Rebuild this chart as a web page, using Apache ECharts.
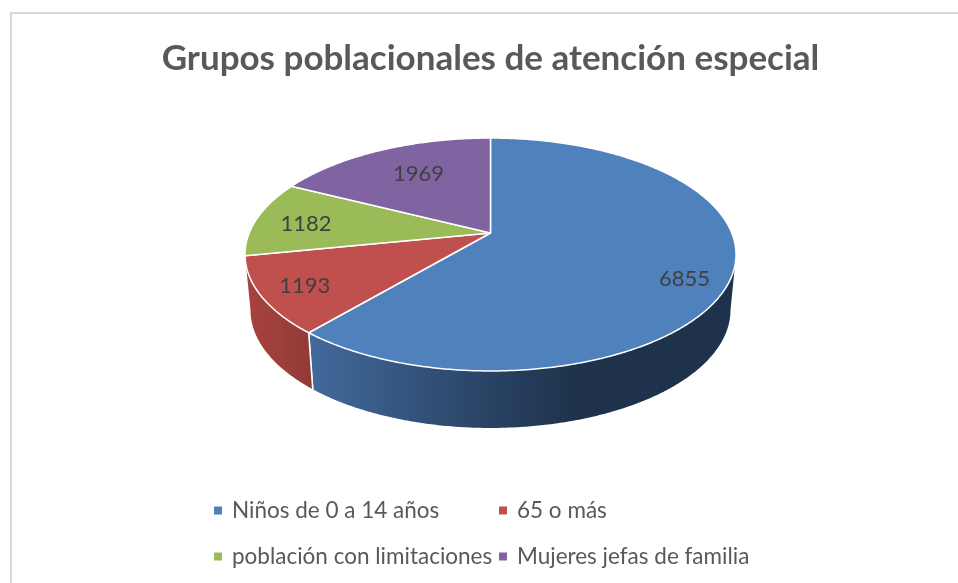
<!DOCTYPE html>
<html>
<head>
<meta charset="utf-8">
<style>html,body{margin:0;padding:0;background:#fff}#c{width:958px;height:583px}</style>
<script src="https://cdn.jsdelivr.net/npm/echarts@6/dist/echarts.min.js"></script>
</head>
<body>
<div id="c"></div>
<script>
const titleText = 'Grupos poblacionales de atención especial';
const categories = ['Niños de 0 a 14 años', '65 o más', 'población con limitaciones', 'Mujeres jefas de familia'];
const values = [6855, 1193, 1182, 1969];
const colors = ['#4F81BD', '#C0504D', '#9BBB59', '#8064A2'];

// Perspective projection of the pie disc
const apex = { x: 490.5, y: 233 };
const persp = { a: 241.3, b: 112.5, k: 0.1845 };
const topEllipse = { cy: 254.5, rx: 245.5, ry: 116.5 };
const baseEllipse = { cy: 310, rx: 240, ry: 118 };
const labelFraction = 0.8;
const labelNudge = [[3, 13], [-6, 4], [3, 3], [18, 9]];
// Visible wall spans, in degrees clockwise from the top of the disc
const wallSpan = [[100.6, null], [null, 259.4], null, null];

const total = values.reduce((s, v) => s + v, 0);
const deg = (v) => v / total * 360;

function project(theta, r) {
  const t = theta * Math.PI / 180;
  const u = r * Math.sin(t), v = r * Math.cos(t);
  const w = 1 + persp.k * v;
  return [apex.x + persp.a * u / w, apex.y - persp.b * v / w];
}
function toBase(p) {
  return [
    apex.x + (p[0] - apex.x) * baseEllipse.rx / topEllipse.rx,
    baseEllipse.cy + (p[1] - topEllipse.cy) * baseEllipse.ry / topEllipse.ry
  ];
}
function rim(a, b) {
  const pts = [];
  const n = Math.max(2, Math.ceil(Math.abs(b - a) * 2));
  for (let i = 0; i <= n; i++) pts.push(project(a + (b - a) * i / n, 1));
  return pts;
}

const wallFills = [
  { type: 'linear', global: true, x: 313, y: 0, x2: 575, y2: 0,
    colorStops: [{ offset: 0, color: '#41699B' }, { offset: 0.65, color: '#2A4466' }, { offset: 1, color: '#1E334B' }] },
  { type: 'linear', global: true, x: 246, y: 0, x2: 313, y2: 0,
    colorStops: [{ offset: 0, color: '#A8433F' }, { offset: 1, color: '#923A36' }] }
];

function makeRender(index) {
  return function (params, api) {
    const value = api.value(0);
    const start = values.slice(0, index).reduce((s, v) => s + deg(v), 0);
    const end = start + deg(value);
    const children = [];
    const span = wallSpan[index];
    if (span) {
      const a = span[0] === null ? start : span[0];
      const b = span[1] === null ? end : span[1];
      const top = rim(a, b);
      const points = top.concat(top.slice().reverse().map(toBase));
      children.push({ type: 'polygon', shape: { points }, style: { fill: wallFills[index], stroke: null } });
      const edge = index === 0 ? top[top.length - 1] : top[0];
      children.push({ type: 'line', shape: { x1: edge[0], y1: edge[1], x2: toBase(edge)[0], y2: toBase(edge)[1] },
        style: { stroke: '#fff', lineWidth: 1.5 } });
    }
    const face = [[apex.x, apex.y]].concat(rim(start, end));
    children.push({ type: 'polygon', shape: { points: face },
      style: { fill: colors[index], stroke: '#fff', lineWidth: 1.5, lineJoin: 'round' } });
    const lp = project((start + end) / 2, labelFraction);
    children.push({ type: 'text', z2: 10, style: {
      x: lp[0] + labelNudge[index][0], y: lp[1] + labelNudge[index][1],
      text: String(value), fill: '#404040', font: '22px Lato', align: 'center', verticalAlign: 'middle' } });
    return { type: 'group', children };
  };
}

const legendText = { color: '#595959', fontFamily: 'Lato', fontSize: 22.5, padding: [0, 0, 0, 5] };
const legendBase = { orient: 'vertical', top: 494, itemWidth: 8, itemHeight: 8, itemGap: 23, icon: 'rect',
  selectedMode: false, textStyle: legendText };

const chart = echarts.init(document.getElementById('c'), null, { renderer: 'canvas' });
chart.setOption({
  animation: false,
  backgroundColor: '#fff',
  title: { text: titleText, left: 485.5, top: 36, textAlign: 'center',
    textStyle: { color: '#595959', fontFamily: 'Lato', fontWeight: 'bold', fontSize: 35 } },
  legend: [
    Object.assign({}, legendBase, { left: 209, data: [categories[0], categories[2]] }),
    Object.assign({}, legendBase, { left: 494, data: [categories[1], categories[3]] })
  ],
  graphic: [{ type: 'polyline', silent: true, z: -1,
    shape: { points: [[11, 583], [11, 13], [958, 13]] },
    style: { stroke: '#D9D9D9', lineWidth: 2, fill: null } }],
  series: categories.map((name, i) => ({
    type: 'custom', name, coordinateSystem: 'none', silent: true,
    itemStyle: { color: colors[i] },
    data: [[values[i]]],
    renderItem: makeRender(i)
  }))
});
</script>
</body>
</html>
